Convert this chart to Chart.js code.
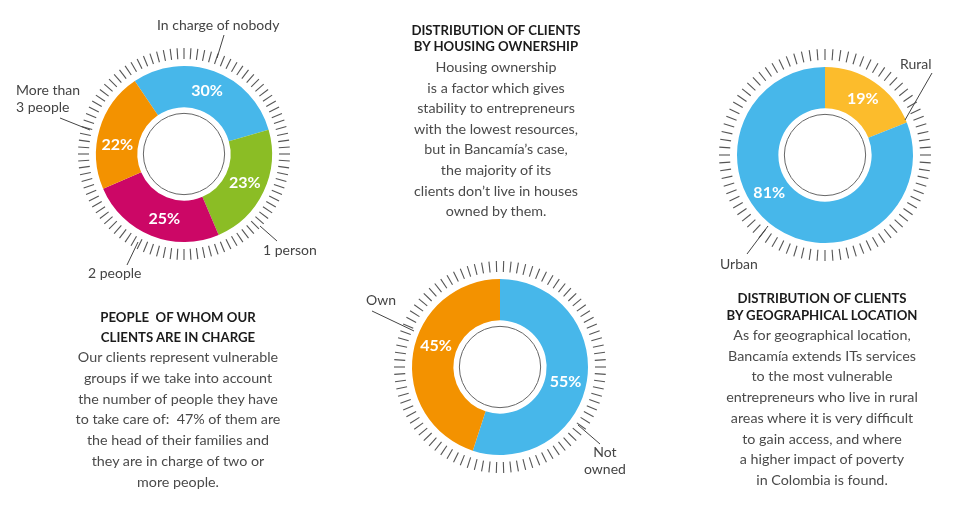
<!DOCTYPE html>
<html>
<head>
<meta charset="utf-8">
<script src="https://cdn.jsdelivr.net/npm/chart.js@4.4.0/dist/chart.umd.min.js"></script>
<style>
  body { margin: 0; background: #fff; width: 960px; height: 514px; position: relative; overflow: hidden; font-family: Lato, "Open Sans", sans-serif; color: #4a4a4a; }
  canvas { position: absolute; }
  .blk { position: absolute; text-align: center; font-size: 14.3px; }
  .blk b { display: block; font-weight: 700; color: #1b1b1b; font-size: 13.2px; }
  .lbl { position: absolute; font-size: 14px; color: #444; line-height: 17px; white-space: nowrap; }
  svg { position: absolute; left: 0; top: 0; }
</style>
</head>
<body>

<canvas id="peopleChart" width="240" height="240" style="left:64px;top:34px"></canvas>
<canvas id="housingChart" width="240" height="240" style="left:380px;top:247px"></canvas>
<canvas id="locationChart" width="240" height="240" style="left:705px;top:35px"></canvas>

<svg width="960" height="514">
  <g stroke="#444" stroke-width="1">
    <line x1="224" y1="35" x2="217" y2="58"/>
    <line x1="60" y1="118" x2="90" y2="130"/>
    <line x1="260" y1="226" x2="277" y2="241"/>
    <line x1="138" y1="242" x2="127" y2="265"/>
    <line x1="372" y1="311" x2="414" y2="331"/>
    <line x1="578" y1="425" x2="600" y2="444"/>
    <line x1="932" y1="73" x2="905" y2="120"/>
    <line x1="747" y1="254" x2="768" y2="226"/>
  </g>
</svg>

<div class="lbl" style="left:157px;top:16px">In charge of nobody</div>
<div class="lbl" style="left:16px;top:81px">More than<br>3 people</div>
<div class="lbl" style="left:263px;top:241px">1 person</div>
<div class="lbl" style="left:88px;top:264px">2 people</div>
<div class="lbl" style="left:366px;top:291px">Own</div>
<div class="lbl" style="left:584px;top:443px;text-align:center">Not<br>owned</div>
<div class="lbl" style="left:900px;top:55px">Rural</div>
<div class="lbl" style="left:720px;top:255px">Urban</div>

<div class="blk" style="left:346px;top:22px;width:300px;line-height:20.6px">
  <b style="line-height:16px">DISTRIBUTION OF CLIENTS<br>BY HOUSING OWNERSHIP</b>
  <div style="margin-top:3px">Housing ownership<br>is a factor which gives<br>stability to entrepreneurs<br>with the lowest resources,<br>but in Bancamía’s case,<br>the majority of its<br>clients don’t live in houses<br>owned by them.</div>
</div>

<div class="blk" style="left:28px;top:307px;width:300px;line-height:20.8px">
  <b style="line-height:20px">PEOPLE&nbsp; OF WHOM OUR<br>CLIENTS ARE IN CHARGE</b>
  <div>Our clients represent vulnerable<br>groups if we take into account<br>the number of people they have<br>to take care of:&nbsp; 47% of them are<br>the head of their families and<br>they are in charge of two or<br>more people.</div>
</div>

<div class="blk" style="left:672px;top:290px;width:300px;line-height:20.7px">
  <b style="line-height:17px">DISTRIBUTION OF CLIENTS<br>BY GEOGRAPHICAL LOCATION</b>
  <div style="margin-top:1px">As for geographical location,<br>Bancamía extends ITs services<br>to the most vulnerable<br>entrepreneurs who live in rural<br>areas where it is very difficult<br>to gain access, and where<br>a higher impact of poverty<br>in Colombia is found.</div>
</div>

<script>
// datos
var peopleLabels = ['In charge of nobody', '1 person', '2 people', 'More than 3 people'];
var peopleValues = [30, 23, 25, 22];
var peopleColors = ['#47b7ea', '#8bbd25', '#cc0766', '#f39200'];

var housingLabels = ['Not owned', 'Own'];
var housingValues = [55, 45];
var housingColors = ['#47b7ea', '#f39200'];

var locationLabels = ['Rural', 'Urban'];
var locationValues = [19, 81];
var locationColors = ['#fcbc2c', '#47b7ea'];

// anillo de marcas, circulo interior y porcentajes
var ringPlugin = {
    id: 'ring',
    beforeDatasetsDraw: function(chart, args, opts) {
        var arc = chart.getDatasetMeta(0).data[0];
        var ctx = chart.ctx;
        var r0 = arc.outerRadius + 7, r1 = arc.outerRadius + 18;
        ctx.save();
        ctx.strokeStyle = '#555';
        ctx.lineWidth = 1.1;
        for (var i = 0; i < opts.ticks; i++) {
            var a = i * 2 * Math.PI / opts.ticks;
            ctx.beginPath();
            ctx.moveTo(arc.x + Math.cos(a) * r0, arc.y + Math.sin(a) * r0);
            ctx.lineTo(arc.x + Math.cos(a) * r1, arc.y + Math.sin(a) * r1);
            ctx.stroke();
        }
        ctx.restore();
    },
    afterDatasetsDraw: function(chart, args, opts) {
        var meta = chart.getDatasetMeta(0);
        var arc0 = meta.data[0];
        var ctx = chart.ctx;
        ctx.save();
        ctx.beginPath();
        ctx.arc(arc0.x, arc0.y, arc0.innerRadius - 6, 0, 2 * Math.PI);
        ctx.fillStyle = '#fff';
        ctx.fill();
        ctx.strokeStyle = '#666';
        ctx.lineWidth = 1;
        ctx.stroke();

        ctx.fillStyle = '#fff';
        ctx.font = 'bold 16px Lato, sans-serif';
        ctx.textAlign = 'center';
        ctx.textBaseline = 'middle';
        var values = chart.data.datasets[0].data;
        meta.data.forEach(function(a, i) {
            var mid = (a.startAngle + a.endAngle) / 2;
            if (opts.angles && opts.angles[i] != null) mid = (opts.angles[i] - 90) * Math.PI / 180;
            var r = (a.innerRadius + a.outerRadius) / 2;
            ctx.fillText(values[i] + '%', a.x + Math.cos(mid) * r, a.y + Math.sin(mid) * r);
        });
        ctx.restore();
    }
};

function crearDona(id, labels, values, colors, rotation, ticks, angles) {
    return new Chart(document.getElementById(id).getContext('2d'), {
        type: 'doughnut',
        data: {
            labels: labels,
            datasets: [{
                data: values,
                backgroundColor: colors,
                borderWidth: 0
            }]
        },
        options: {
            responsive: false,
            animation: false,
            cutout: '53%',
            rotation: rotation,
            layout: { padding: 32 },
            plugins: {
                legend: { display: false },
                tooltip: { enabled: false },
                ring: { ticks: ticks, angles: angles }
            }
        },
        plugins: [ringPlugin]
    });
}

crearDona('peopleChart', peopleLabels, peopleValues, peopleColors, -34, 96, [null, null, 197, 278]);
crearDona('housingChart', housingLabels, housingValues, housingColors, 0, 90, [103, 288]);
crearDona('locationChart', locationLabels, locationValues, locationColors, 0, 84, [null, 236]);
</script>
</body>
</html>
